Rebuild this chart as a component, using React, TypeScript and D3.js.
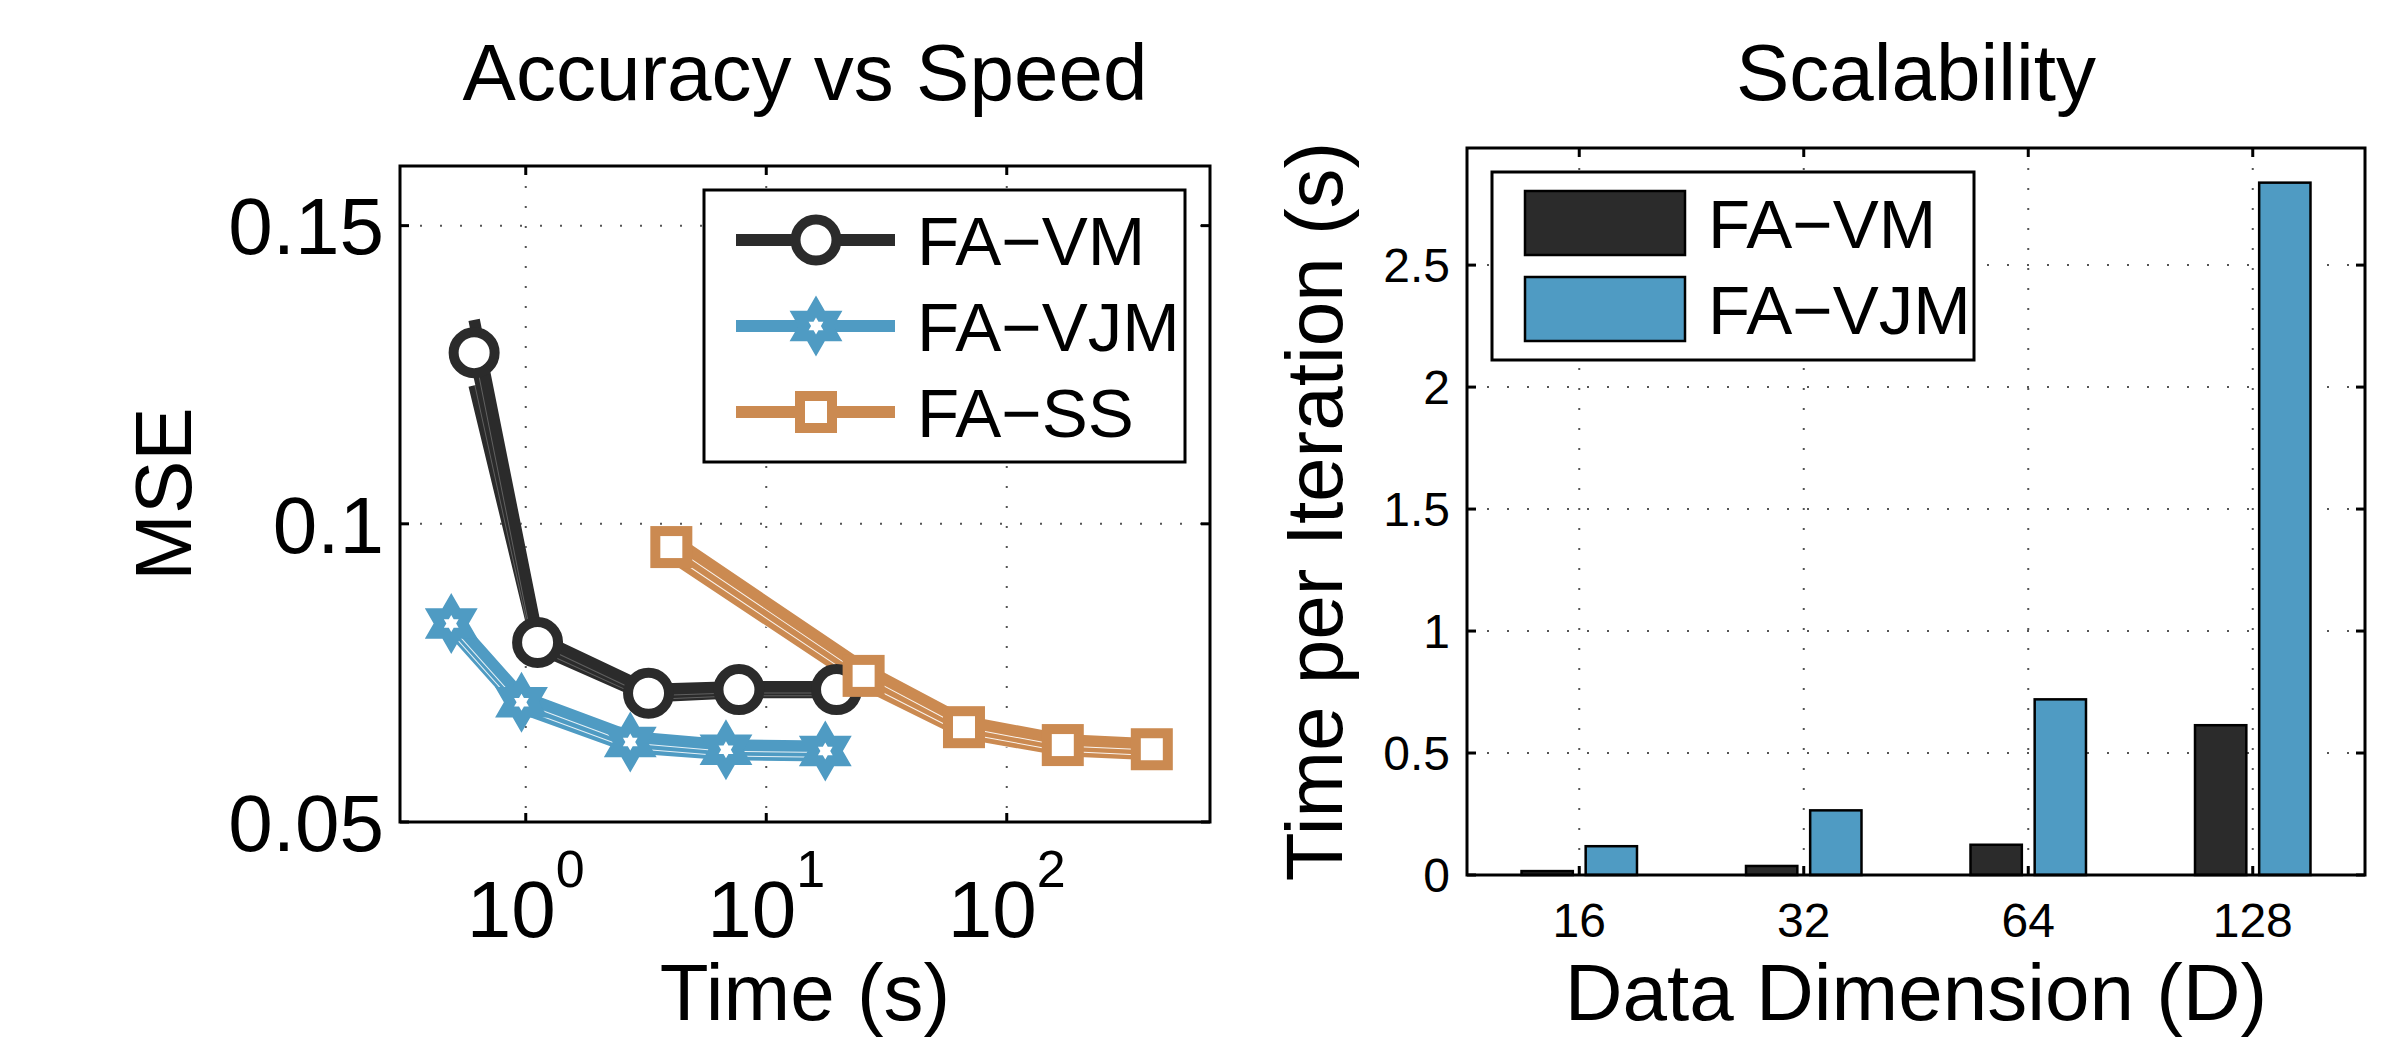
import React from "react";
import * as d3 from "d3";

// ---- Accuracy vs Speed (log time axis) ----
const timeVM = [0.61, 1.12, 3.24, 7.7, 19.6];
const mseVM = [0.1287, 0.0801, 0.0716, 0.0722, 0.0722];
const sdVM = [0.0055, 0.0009, 0.0006, 0.0005, 0.0005];

const timeVJM = [0.49, 0.96, 2.72, 6.8, 17.6];
const mseVJM = [0.0833, 0.0701, 0.0634, 0.0621, 0.0619];
const sdVJM = [0.001, 0.001, 0.0009, 0.0008, 0.0008];

const timeSS = [4.03, 25.4, 66.4, 171, 401];
const mseSS = [0.0961, 0.0745, 0.0659, 0.0629, 0.0622];
const sdSS = [0.0015, 0.0013, 0.001, 0.0009, 0.0009];

const mseTicks = [0.05, 0.1, 0.15];
const mseTickLabels = ["0.05", "0.1", "0.15"];
const timeTicks = [1, 10, 100];
const timeExponents = ["0", "1", "2"];

// ---- Scalability (grouped bars) ----
const dims = ["16", "32", "64", "128"];
const iterVM = [0.016, 0.037, 0.124, 0.614];
const iterVJM = [0.118, 0.265, 0.72, 2.838];
const iterTicks = [0, 0.5, 1, 1.5, 2, 2.5];
const iterTickLabels = ["0", "0.5", "1", "1.5", "2", "2.5"];

const seriesNames = ["FA\u2212VM", "FA\u2212VJM", "FA\u2212SS"];

const BLACK = "#2b2b2b";
const BLUE = "#4f9bc3";
const ORANGE = "#cb8a51";
const FONT = "'Liberation Sans', Arial, Helvetica, sans-serif";
const GRID = "#555";

function hexagram(cx: number, cy: number, R: number) {
  const pts: [number, number][] = [];
  const r = R / Math.sqrt(3);
  for (let k = 0; k < 12; k++) {
    const a = ((-90 + k * 30) * Math.PI) / 180;
    const rad = k % 2 === 0 ? R : r;
    pts.push([cx + rad * Math.cos(a), cy + rad * Math.sin(a)]);
  }
  return "M" + pts.map((p) => p.join(",")).join("L") + "Z";
}

function Marker({ kind, cx, cy, color }: { kind: string; cx: number; cy: number; color: string }) {
  if (kind === "circle")
    return <circle cx={cx} cy={cy} r={20.5} fill="#fff" stroke={color} strokeWidth={10} />;
  if (kind === "star")
    return (
      <g>
        <path d={hexagram(cx, cy, 30.5)} fill={color} />
        <path d={hexagram(cx, cy, 8.5)} fill="#fff" />
      </g>
    );
  return <rect x={cx - 16} y={cy - 16} width={32} height={32} fill="#fff" stroke={color} strokeWidth={10} />;
}

export default function App() {
  // left panel geometry
  const L = { x0: 400, x1: 1210, y0: 166, y1: 822 };
  const xT = d3.scaleLog().domain([0.3, 700]).range([L.x0, L.x1]);
  const yM = d3.scaleLinear().domain([0.05, 0.16]).range([L.y1, L.y0]);

  // right panel geometry
  const R = { x0: 1467, x1: 2365, y0: 148, y1: 875 };
  const xD = d3.scaleBand().domain(dims).range([R.x0, R.x1]).paddingInner(0).paddingOuter(0);
  const yI = d3.scaleLinear().domain([0, 2.98]).range([R.y1, R.y0]);
  const bw = xD.bandwidth();
  const barW = bw * 0.2286;
  const barOff = bw * 0.1429;

  const series = [
    { name: seriesNames[0], t: timeVM, v: mseVM, sd: sdVM, color: BLACK, marker: "circle", halo: 0.25 },
    { name: seriesNames[1], t: timeVJM, v: mseVJM, sd: sdVJM, color: BLUE, marker: "star", halo: 0.85 },
    { name: seriesNames[2], t: timeSS, v: mseSS, sd: sdSS, color: ORANGE, marker: "square", halo: 0.9 },
  ];

  const line = d3
    .line<[number, number]>()
    .x((d) => xT(d[0]))
    .y((d) => yM(d[1]));

  const LW = 11.5;
  const tickLen = 9;

  return (
    <svg
      width={2406}
      height={1037}
      style={{ position: "absolute", left: 0, top: 0, background: "#fff" }}
      fontFamily={FONT}
    >
      <rect x={0} y={0} width={2406} height={1037} fill="#fff" />

      {/* ===== Left panel ===== */}
      <text x={(L.x0 + L.x1) / 2} y={100} fontSize={80} textAnchor="middle">
        Accuracy vs Speed
      </text>

      {/* grid */}
      {timeTicks.map((t) => (
        <line key={"gx" + t} x1={xT(t)} x2={xT(t)} y1={L.y0} y2={L.y1} stroke={GRID} strokeWidth={2} strokeDasharray="2 18" />
      ))}
      {mseTicks.map((v) => (
        <line key={"gy" + v} x1={L.x0} x2={L.x1} y1={yM(v)} y2={yM(v)} stroke={GRID} strokeWidth={2} strokeDasharray="2 18" />
      ))}

      {/* series bands: lower, mean, upper */}
      {series.map((s) => (
        <g key={"band" + s.name}>
          {[-1, 0, 1].map((k) => {
            const pts = s.t.map((t, i) => [t, s.v[i] + k * s.sd[i]] as [number, number]);
            const d = line(pts) as string;
            return (
              <g key={k}>
                <path d={d} fill="none" stroke="#fff" strokeOpacity={s.halo} strokeWidth={LW + 2} strokeLinejoin="round" />
                <path d={d} fill="none" stroke={s.color} strokeWidth={LW} strokeLinejoin="round" />
              </g>
            );
          })}
        </g>
      ))}
      {series.map((s) => (
        <g key={"mk" + s.name}>
          {s.t.map((t, i) => (
            <Marker key={i} kind={s.marker} cx={xT(t)} cy={yM(s.v[i])} color={s.color} />
          ))}
        </g>
      ))}

      {/* axes box and ticks */}
      <rect x={L.x0} y={L.y0} width={L.x1 - L.x0} height={L.y1 - L.y0} fill="none" stroke="#000" strokeWidth={3} />
      {timeTicks.map((t) => (
        <g key={"tx" + t}>
          <line x1={xT(t)} x2={xT(t)} y1={L.y1} y2={L.y1 - tickLen} stroke="#000" strokeWidth={3} />
          <line x1={xT(t)} x2={xT(t)} y1={L.y0} y2={L.y0 + tickLen} stroke="#000" strokeWidth={3} />
        </g>
      ))}
      {mseTicks.map((v) => (
        <g key={"ty" + v}>
          <line x1={L.x0} x2={L.x0 + tickLen} y1={yM(v)} y2={yM(v)} stroke="#000" strokeWidth={3} />
          <line x1={L.x1} x2={L.x1 - tickLen} y1={yM(v)} y2={yM(v)} stroke="#000" strokeWidth={3} />
        </g>
      ))}

      {/* tick labels */}
      {mseTicks.map((v, i) => (
        <text key={"ly" + v} x={L.x0 - 16} y={yM(v)} dy="0.36em" fontSize={80} textAnchor="end">
          {mseTickLabels[i]}
        </text>
      ))}
      {timeTicks.map((t, i) => (
        <text key={"lx" + t} x={xT(t)} y={937} fontSize={80} textAnchor="middle">
          <tspan>10</tspan>
          <tspan fontSize={52} dy={-50}>
            {timeExponents[i]}
          </tspan>
        </text>
      ))}
      <text x={(L.x0 + L.x1) / 2} y={1020} fontSize={80} textAnchor="middle">
        Time (s)
      </text>
      <text transform={`translate(191,${(L.y0 + L.y1) / 2}) rotate(-90)`} fontSize={80} textAnchor="middle">
        MSE
      </text>

      {/* legend */}
      <rect x={704} y={190} width={481} height={272} fill="#fff" stroke="#000" strokeWidth={3} />
      {series.map((s, i) => {
        const cy = 240 + i * 86;
        return (
          <g key={"lg" + s.name}>
            <line x1={736} x2={895} y1={cy} y2={cy} stroke={s.color} strokeWidth={LW + 0.5} />
            <Marker kind={s.marker} cx={816} cy={cy} color={s.color} />
            <text x={917} y={cy + 25} fontSize={69}>
              {s.name}
            </text>
          </g>
        );
      })}

      {/* ===== Right panel ===== */}
      <text x={(R.x0 + R.x1) / 2} y={100} fontSize={80} textAnchor="middle">
        Scalability
      </text>

      {dims.map((c) => {
        const cx = (xD(c) as number) + bw / 2;
        return (
          <line key={"rgx" + c} x1={cx} x2={cx} y1={R.y0} y2={R.y1} stroke={GRID} strokeWidth={2} strokeDasharray="2 18" />
        );
      })}
      {iterTicks.map((v) => (
        <line key={"rgy" + v} x1={R.x0} x2={R.x1} y1={yI(v)} y2={yI(v)} stroke={GRID} strokeWidth={2} strokeDasharray="2 18" />
      ))}

      {dims.map((c, i) => {
        const cx = (xD(c) as number) + bw / 2;
        return (
          <g key={"bar" + c}>
            <rect
              x={cx - barOff - barW / 2}
              y={yI(iterVM[i])}
              width={barW}
              height={yI(0) - yI(iterVM[i])}
              fill={BLACK}
              stroke="#000"
              strokeWidth={2.5}
            />
            <rect
              x={cx + barOff - barW / 2}
              y={yI(iterVJM[i])}
              width={barW}
              height={yI(0) - yI(iterVJM[i])}
              fill={BLUE}
              stroke="#000"
              strokeWidth={2.5}
            />
          </g>
        );
      })}

      <rect x={R.x0} y={R.y0} width={R.x1 - R.x0} height={R.y1 - R.y0} fill="none" stroke="#000" strokeWidth={3} />
      {dims.map((c) => {
        const cx = (xD(c) as number) + bw / 2;
        return (
          <g key={"rtx" + c}>
            <line x1={cx} x2={cx} y1={R.y1} y2={R.y1 - tickLen} stroke="#000" strokeWidth={3} />
            <line x1={cx} x2={cx} y1={R.y0} y2={R.y0 + tickLen} stroke="#000" strokeWidth={3} />
            <text x={cx} y={937} fontSize={48} textAnchor="middle">
              {c}
            </text>
          </g>
        );
      })}
      {iterTicks.map((v, i) => (
        <g key={"rty" + v}>
          <line x1={R.x0} x2={R.x0 + tickLen} y1={yI(v)} y2={yI(v)} stroke="#000" strokeWidth={3} />
          <line x1={R.x1} x2={R.x1 - tickLen} y1={yI(v)} y2={yI(v)} stroke="#000" strokeWidth={3} />
          <text x={R.x0 - 17} y={yI(v)} dy="0.36em" fontSize={48} textAnchor="end">
            {iterTickLabels[i]}
          </text>
        </g>
      ))}
      <text x={(R.x0 + R.x1) / 2} y={1020} fontSize={80} textAnchor="middle">
        Data Dimension (D)
      </text>
      <text transform={`translate(1342,${(R.y0 + R.y1) / 2}) rotate(-90)`} fontSize={80} textAnchor="middle">
        Time per Iteration (s)
      </text>

      {/* legend */}
      <rect x={1492} y={172} width={482} height={188} fill="#fff" stroke="#000" strokeWidth={3} />
      {[
        { name: seriesNames[0], color: BLACK },
        { name: seriesNames[1], color: BLUE },
      ].map((s, i) => {
        const top = 191 + i * 86;
        return (
          <g key={"rlg" + s.name}>
            <rect x={1525} y={top} width={160} height={64} fill={s.color} stroke="#000" strokeWidth={2.5} />
            <text x={1708} y={top + 57} fontSize={69}>
              {s.name}
            </text>
          </g>
        );
      })}
    </svg>
  );
}
